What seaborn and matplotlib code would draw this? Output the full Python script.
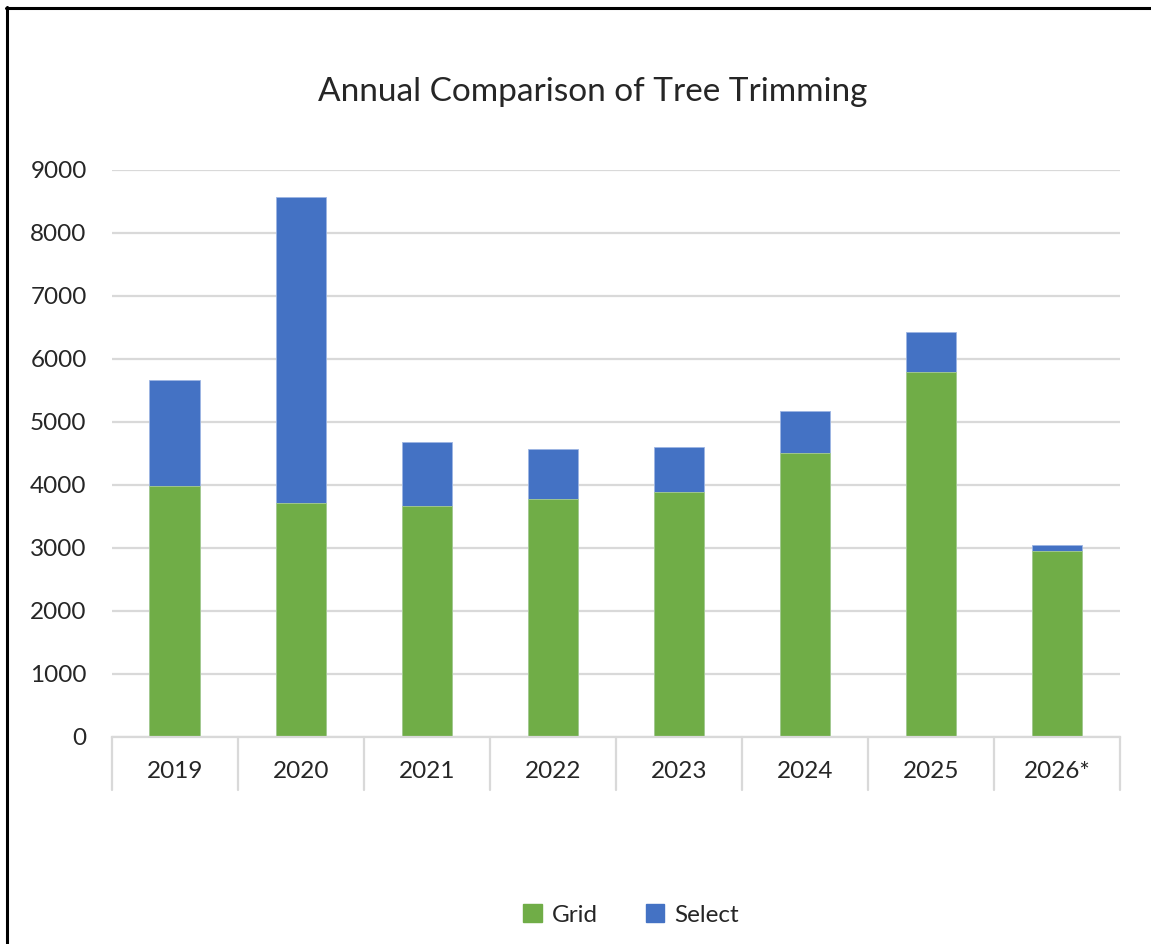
"""
Annual comparison of tree trimming - stacked bars (Grid + Select)
"""

import numpy as np
import pandas as pd
import matplotlib
matplotlib.use("Agg")
import matplotlib.pyplot as plt
import matplotlib.patches as mpatches
import matplotlib.transforms as mtransforms
from matplotlib.lines import Line2D
import seaborn as sns

YEARS  = ["2019", "2020", "2021", "2022", "2023", "2024", "2025", "2026*"]
GRID   = [3990, 3707, 3666, 3768, 3889, 4503, 5789, 2957]
SELECT = [1678, 4859, 1022, 803, 705, 662, 630, 95]
Y_TICKS = [0, 1000, 2000, 3000, 4000, 5000, 6000, 7000, 8000, 9000]

GREEN = "#70AD47"
BLUE  = "#4472C4"
GRID_COLOR = "#D9D9D9"
TEXT  = "#262626"

sns.set_theme(style="white")
plt.rcParams["font.family"] = ["Lato", "DejaVu Sans"]

df = pd.DataFrame({"year": YEARS, "grid": GRID, "select": SELECT})
df["total"] = df["grid"] + df["select"]

fig = plt.figure(figsize=(11.51, 9.44), dpi=100)
ax = fig.add_axes([0.0970, 0.2193, 0.8761, 0.6009])

# total first (blue), grid on top (green)
sns.barplot(data=df, x="year", y="total", color=BLUE, width=0.4,
            saturation=1, edgecolor="#9DB5E3", linewidth=0.6, ax=ax, zorder=3)
sns.barplot(data=df, x="year", y="grid", color=GREEN, width=0.4,
            saturation=1, edgecolor="#A9CE91", linewidth=0.6, ax=ax, zorder=4)

ax.set_ylim(0, 9000)
ax.set_xlim(-0.5, len(YEARS) - 0.5)
ax.set_yticks(Y_TICKS)
ax.set_yticklabels([str(t) for t in Y_TICKS])
ax.yaxis.grid(True, color=GRID_COLOR, linewidth=1.6)
ax.set_axisbelow(True)
ax.set_xlabel("")
ax.set_ylabel("")
for side in ["top", "right", "left"]:
    ax.spines[side].set_visible(False)
ax.spines["bottom"].set_color(GRID_COLOR)
ax.spines["bottom"].set_linewidth(1.6)
ax.spines["bottom"].set_zorder(5)

ax.tick_params(axis="y", length=0, pad=18, labelsize=17.5, labelcolor=TEXT)
ax.tick_params(axis="x", length=0, pad=17, labelsize=17.5, labelcolor=TEXT)

# category separators below the axis
trans = mtransforms.blended_transform_factory(ax.transData, ax.transAxes)
for b in np.arange(-0.5, len(YEARS), 1.0):
    ax.add_line(Line2D([b, b], [0, -0.093], transform=trans, color=GRID_COLOR,
                       linewidth=1.6, clip_on=False))

fig.text(593 / 1151, 1 - 92 / 944, "Annual Comparison of Tree Trimming",
         ha="center", va="center", fontsize=24, color=TEXT)

handles = [mpatches.Patch(color=GREEN, label="Grid"),
           mpatches.Patch(color=BLUE, label="Select")]
fig.legend(handles=handles, loc="center", bbox_to_anchor=(631 / 1151, 1 - 915 / 944),
           ncol=2, frameon=False, fontsize=17.5, handlelength=0.75, handleheight=0.75,
           handletextpad=0.4, columnspacing=2.0, labelcolor=TEXT)

# outer frame (top and left edge only visible)
fig.add_artist(Line2D([6 / 1151, 1], [1 - 8 / 944, 1 - 8 / 944], transform=fig.transFigure,
                      color="black", linewidth=2.2))
fig.add_artist(Line2D([7 / 1151, 7 / 1151], [0, 1 - 7 / 944], transform=fig.transFigure,
                      color="black", linewidth=2.2))

fig.savefig("out.png", dpi=100)
print("Saved: out.png")
